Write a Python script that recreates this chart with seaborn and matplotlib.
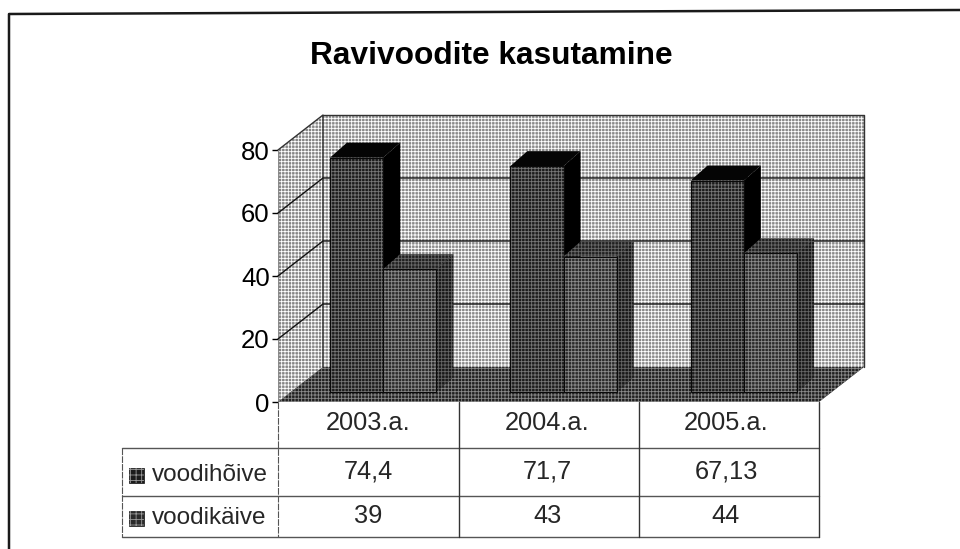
import matplotlib
matplotlib.use("Agg")
import matplotlib.pyplot as plt
from matplotlib.patches import Polygon, Rectangle
import pandas as pd
import seaborn as sns

# ---- data ----
title = "Ravivoodite kasutamine"
years = ["2003.a.", "2004.a.", "2005.a."]
series_names = ["voodihõive", "voodikäive"]
voodihoive = [74.4, 71.7, 67.13]
voodikaive = [39, 43, 44]
table_hoive = ["74,4", "71,7", "67,13"]
table_kaive = ["39", "43", "44"]
y_ticks = [0, 20, 40, 60, 80]

W, H = 960, 549
sns.set_theme(style="white")
plt.rcParams["font.family"] = ["Liberation Sans", "DejaVu Sans"]
plt.rcParams["hatch.linewidth"] = 0.6

fig = plt.figure(figsize=(W / 100, H / 100), dpi=100)


def axes_px(x0, x1, y_bottom, y_top):
    return fig.add_axes([x0 / W, 1 - y_bottom / H, (x1 - x0) / W, (y_bottom - y_top) / H])


# front plane of the 3D box
ax = axes_px(278, 819, 402, 150)
ax.set_xlim(-0.5, 2.5)
ax.set_ylim(0, 80)
ax.patch.set_alpha(0)
for s in ax.spines.values():
    s.set_visible(False)

# depth offset of the box expressed in data units
px_x = 3 / (819 - 278)
px_y = 80 / (402 - 150)
dx, dy = 45 * px_x, 35 * px_y
x0, x1, top = -0.5, 2.5, 80


def poly(a, pts, face, hatch=None, edge="none", hatch_col="white", z=1, lw=0):
    a.add_patch(Polygon(pts, closed=True, facecolor=face, edgecolor=edge, lw=lw, zorder=z, clip_on=False))
    if hatch:
        a.add_patch(Polygon(pts, closed=True, facecolor="none", edgecolor=hatch_col, lw=0,
                            hatch=hatch, zorder=z + 0.1, clip_on=False))


# back wall, left wall, floor
poly(ax, [(x0 + dx, dy), (x1 + dx, dy), (x1 + dx, top + dy), (x0 + dx, top + dy)], "#8a8a8a", "+++++", z=1)
poly(ax, [(x0, 0), (x0 + dx, dy), (x0 + dx, top + dy), (x0, top)], "#858585", "+++++", z=1)
poly(ax, [(x0, 0), (x1, 0), (x1 + dx, dy), (x0 + dx, dy)], "#202020", "+++++", hatch_col="#8a8a8a", z=1.5)

# box outline and gridlines
ax.plot([x0 + dx, x1 + dx, x1 + dx], [top + dy, top + dy, dy], color="#333333", lw=1, zorder=1.4, clip_on=False)
ax.plot([x0, x0 + dx, x0 + dx], [top, top + dy, dy], color="#333333", lw=1, zorder=1.4, clip_on=False)
ax.plot([x0, x0], [0, top], color="#777777", lw=0.6, zorder=1.4, clip_on=False)
for t in y_ticks[1:-1]:
    ax.plot([x0, x0 + dx, x1 + dx], [t, t + dy, t + dy], color="#111111", lw=1, zorder=1.4, clip_on=False)

# y axis
ax.set_xticks([])
ax.set_yticks(y_ticks)
ax.set_yticklabels([str(t) for t in y_ticks], fontsize=18.5, color="black")
ax.tick_params(axis="y", length=4, width=1, color="black", pad=2, left=True)
ax.grid(False)

# bars in a plane pushed 15 px right / 10 px back
bx = axes_px(293, 834, 392, 140)
bx.patch.set_alpha(0)
df = pd.DataFrame({
    "year": years * 2,
    "series": [series_names[0]] * 3 + [series_names[1]] * 3,
    "value": voodihoive + voodikaive,
})
sns.barplot(data=df, x="year", y="value", hue="series", order=years, hue_order=series_names,
            palette=["#1c1c1c", "#2a2a2a"], width=0.59, gap=0, saturation=1, legend=False, ax=bx, zorder=3)
bx.set_xlim(-0.5, 2.5)
bx.set_ylim(0, 80)
bx.axis("off")

bar_dx, bar_dy = 17 * px_x, 15 * px_y
bars = [p for p in bx.patches]
for i, p in enumerate(bars):
    xl, w, h = p.get_x(), p.get_width(), p.get_height()
    first = i < 3
    z = 3 + (0 if first else 1)
    # side and top faces, derived from the bar itself
    poly(bx, [(xl + w, 0), (xl + w + bar_dx, bar_dy), (xl + w + bar_dx, h + bar_dy), (xl + w, h)],
         "#000000" if first else "#181818", None if first else "+++++", hatch_col="#666666", z=z - 0.5)
    poly(bx, [(xl, h), (xl + w, h), (xl + w + bar_dx, h + bar_dy), (xl + bar_dx, h + bar_dy)],
         "#050505" if first else "#202020", None if first else "+++++", hatch_col="#6a6a6a", z=z - 0.4)
    p.set_zorder(z)
    p.set_edgecolor("#777777" if first else "#8c8c8c")
    p.set_linewidth(0)
    p.set_hatch("+++++")
    bx.add_patch(Rectangle((xl, 0), w, h, facecolor="none", edgecolor="#0a0a0a", lw=0.8, zorder=z + 0.2, clip_on=False))

# overlay in figure pixels for title, frame, table
ov = fig.add_axes([0, 0, 1, 1], zorder=10)
ov.set_xlim(0, W)
ov.set_ylim(H, 0)
ov.axis("off")
ov.patch.set_alpha(0)

ov.plot([9, 9, 960], [549, 14, 10], color="#1a1a1a", lw=1.8, clip_on=False)
ov.text(491, 56, title, ha="center", va="center", fontsize=22.8, fontweight="bold", color="black")

# data table
col_x = [278, 459, 639, 819]
ov.plot([122, 819], [448, 448], color="#555555", lw=1)
ov.plot([122, 819], [496, 496], color="#555555", lw=1)
ov.plot([122, 819], [537, 537], color="#555555", lw=1)
ov.plot([122, 122], [448, 537], color="#555555", lw=0.8, ls=(0, (6, 1)))
ov.plot([278, 278], [402, 537], color="#555555", lw=0.8, ls=(0, (6, 1)))
for x in col_x[1:]:
    ov.plot([x, x], [402, 537], color="#333333", lw=1)

for i, y in enumerate(years):
    cx = (col_x[i] + col_x[i + 1]) / 2 - (i * 1.5)
    ov.text(cx, 423, y, ha="center", va="center", fontsize=18.3)
    ov.text(cx, 471, table_hoive[i], ha="center", va="center", fontsize=18.3)
    ov.text(cx, 516, table_kaive[i], ha="center", va="center", fontsize=18.3)

for name, y, col in zip(series_names, [476, 519], ["#1c1c1c", "#2a2a2a"]):
    ov.add_patch(Rectangle((129, y - 8), 15, 15, facecolor=col, edgecolor="#111111", lw=0.5))
    ov.add_patch(Rectangle((129, y - 8), 15, 15, facecolor="none", edgecolor="#999999", lw=0, hatch="+++"))
    ov.text(152, y - 1, name, ha="left", va="center", fontsize=17.5)

fig.savefig("out.png", dpi=100, facecolor="white")
